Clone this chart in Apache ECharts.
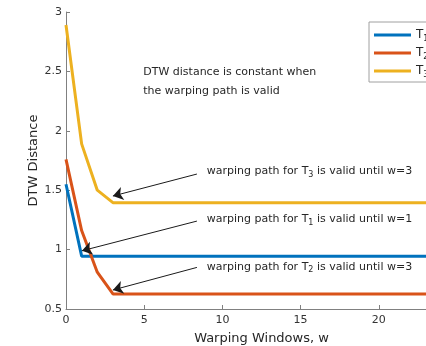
<!DOCTYPE html>
<html><head><meta charset="utf-8">
<script src="https://cdn.jsdelivr.net/npm/echarts@6/dist/echarts.min.js"></script>
<style>html,body{margin:0;padding:0;background:#fff}#c{width:426px;height:346px}</style>
</head><body><div id="c"></div>
<script>
const windowsW = [0,1,2,3,4,5,6,7,8,9,10,11,12,13,14,15,16,17,18,19,20,21,22,23,24,25];
const t1 = [1.55,0.945,0.945,0.945,0.945,0.945,0.945,0.945,0.945,0.945,0.945,0.945,0.945,0.945,0.945,0.945,0.945,0.945,0.945,0.945,0.945,0.945,0.945,0.945,0.945,0.945];
const t2 = [1.76,1.16,0.81,0.627,0.627,0.627,0.627,0.627,0.627,0.627,0.627,0.627,0.627,0.627,0.627,0.627,0.627,0.627,0.627,0.627,0.627,0.627,0.627,0.627,0.627,0.627];
const t3 = [2.89,1.89,1.50,1.395,1.395,1.395,1.395,1.395,1.395,1.395,1.395,1.395,1.395,1.395,1.395,1.395,1.395,1.395,1.395,1.395,1.395,1.395,1.395,1.395,1.395,1.395];
const seriesNames = ['T1','T2','T3'];
const subs = ['1','2','3'];
const xTicks = [0,5,10,15,20,25];
const yTicks = [0.5,1,1.5,2,2.5,3];
// annotation arrows: [startW, startD, tipW, tipD]
const arrows = [[8.37,1.636,3.0,1.451],[8.37,1.24,1.02,0.99],[8.37,0.85,3.0,0.66]];
// annotation texts: [w, d, prefix, sub, suffix]
const notes = [[9.0,1.66,'warping path for T','3',' is valid until w=3'],[9.0,1.258,'warping path for T','1',' is valid until w=1'],[9.0,0.855,'warping path for T','2',' is valid until w=3']];
const headNote = ['DTW distance is constant when','the warping path is valid'];
const headPos = [4.94, 2.49, 2.335];

const colors = ['#0072BD','#D95319','#EDB120'];
const font = 'DejaVu Sans';
const chart = echarts.init(document.getElementById('c'));
const mk = (name, d, i) => ({
  name, type:'line', data: windowsW.map((w,k)=>[w,d[k]]), showSymbol:false, symbol:'none',
  lineStyle:{width:3,color:colors[i]}, itemStyle:{color:colors[i]}, z: 3, animation:false
});
const s = [mk('T1',t1,0), mk('T2',t2,1), mk('T3',t3,2)];
s[0].markLine = {
  silent:true, symbol:['none','arrow'], symbolSize:10, animation:false,
  lineStyle:{color:'#1a1a1a', width:1, type:'solid'}, itemStyle:{color:'#1a1a1a'}, label:{show:false},
  data: arrows.map(a=>[{coord:[a[0],a[1]]},{coord:[a[2],a[3]]}])
};
chart.setOption({
  animation:false,
  grid:{left:66, top:12, height:297, width:391, containLabel:false, outerBoundsMode:'none'},
  legend:{
    orient:'vertical', left:369, top:22, data:seriesNames,
    icon:'rect', itemWidth:37, itemHeight:3, itemGap:2,
    borderColor:'#a0a0a0', borderWidth:1, padding:[5,30,3,5], backgroundColor:'#fff',
    formatter: n => '{t|T}{s|' + subs[seriesNames.indexOf(n)] + '}',
    textStyle:{ rich:{ t:{fontFamily:font,fontSize:12,color:'#262626',lineHeight:11}, s:{fontFamily:font,fontSize:8,color:'#262626',padding:[8,0,0,0],lineHeight:11} } }
  },
  xAxis:{
    type:'value', min:0, max:25, interval:5,
    name:'Warping Windows, w', nameLocation:'middle', nameGap:23, nameMoveOverlap:false,
    nameTextStyle:{fontFamily:font,fontSize:13,color:'#262626'},
    axisLine:{lineStyle:{color:'#808080',width:1}},
    axisTick:{inside:true,length:4,lineStyle:{color:'#808080'}},
    axisLabel:{fontFamily:font,fontSize:11,color:'#333333',margin:6},
    splitLine:{show:false}
  },
  yAxis:{
    type:'value', min:0.5, max:3, interval:0.5,
    name:'DTW Distance', nameLocation:'middle', nameGap:26, nameMoveOverlap:false,
    nameTextStyle:{fontFamily:font,fontSize:13,color:'#262626'},
    axisLine:{show:true,lineStyle:{color:'#808080',width:1}},
    axisTick:{show:true,inside:true,length:4,lineStyle:{color:'#808080'}},
    axisLabel:{fontFamily:font,fontSize:11,color:'#333333',margin:4},
    splitLine:{show:false}
  },
  series:s
});
const g = [];
notes.forEach(n=>{
  const p = chart.convertToPixel({gridIndex:0},[n[0],n[1]]);
  g.push({type:'text', x:p[0], y:p[1], z:10, style:{
    text:'{a|'+n[2]+'}{b|'+n[3]+'}{a|'+n[4]+'}', verticalAlign:'middle', align:'left',
    rich:{a:{fontFamily:font,fontSize:11,fill:'#262626',lineHeight:13}, b:{fontFamily:font,fontSize:8,fill:'#262626',padding:[7,0,0,0],lineHeight:13}}
  }});
});
[1,2].forEach((k,i)=>{
  const p = chart.convertToPixel({gridIndex:0},[headPos[0],headPos[k]]);
  g.push({type:'text', x:p[0], y:p[1], z:10, style:{text:headNote[i], fontFamily:font, fontSize:11, fill:'#262626', verticalAlign:'middle', align:'left'}});
});
chart.setOption({graphic:g});
</script></body></html>
